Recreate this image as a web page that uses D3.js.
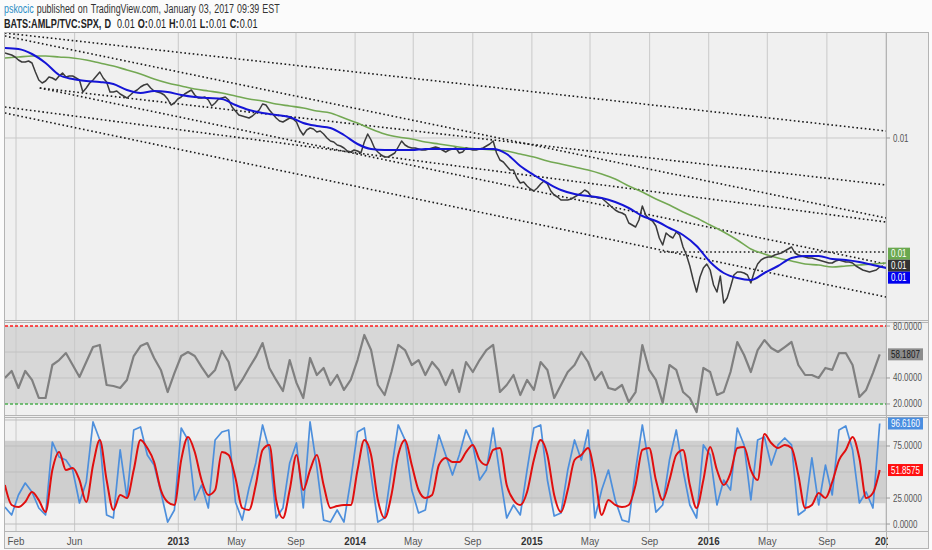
<!DOCTYPE html>
<html>
<head>
<meta charset="utf-8">
<script src="https://cdnjs.cloudflare.com/ajax/libs/d3/7.8.5/d3.min.js"></script>
<style>
  body { margin: 0; background: #fff; }
  svg { display: block; font-family: "Liberation Sans", Arial, sans-serif; }
</style>
</head>
<body>
<svg width="932" height="550"></svg>
<script>
// AMLP / SPX, nến D — giá đọc từ hình theo tuần
const gridStart = "2012-01-09";
const priceStepDays = 7;
const priceValues = [
    0.01255, 0.01252, 0.01249, 0.01243, 0.01234, 0.01228, 0.01228, 0.01231, 0.01225, 0.01198,
    0.01174, 0.01165, 0.01171, 0.01183, 0.01180, 0.01174, 0.01186, 0.01195, 0.01183, 0.01186,
    0.01186, 0.01180, 0.01174, 0.01138, 0.01150, 0.01165, 0.01174, 0.01186, 0.01198, 0.01180,
    0.01168, 0.01138, 0.01138, 0.01141, 0.01132, 0.01126, 0.01120, 0.01129, 0.01138, 0.01144,
    0.01153, 0.01159, 0.01162, 0.01150, 0.01141, 0.01138, 0.01135, 0.01129, 0.01117, 0.01099,
    0.01105, 0.01117, 0.01123, 0.01132, 0.01138, 0.01144, 0.01129, 0.01120, 0.01120, 0.01123,
    0.01114, 0.01096, 0.01105, 0.01117, 0.01120, 0.01123, 0.01114, 0.01093, 0.01081, 0.01069,
    0.01066, 0.01063, 0.01060, 0.01066, 0.01075, 0.01084, 0.01102, 0.01099, 0.01084, 0.01072,
    0.01060, 0.01051, 0.01048, 0.01054, 0.01060, 0.01057, 0.01048, 0.01024, 0.01009, 0.01024,
    0.01030, 0.01027, 0.01018, 0.01021, 0.01012, 0.01000, 0.00991, 0.00988, 0.00979, 0.00976,
    0.00970, 0.00961, 0.00958, 0.00964, 0.00961, 0.00955, 0.00988, 0.01012, 0.00994, 0.00970,
    0.00958, 0.00949, 0.00943, 0.00943, 0.00949, 0.00955, 0.00973, 0.00991, 0.00979, 0.00973,
    0.00970, 0.00970, 0.00967, 0.00964, 0.00964, 0.00967, 0.00970, 0.00973, 0.00970, 0.00964,
    0.00958, 0.00964, 0.00967, 0.00970, 0.00955, 0.00958, 0.00970, 0.00967, 0.00964, 0.00964,
    0.00967, 0.00970, 0.00976, 0.00982, 0.00991, 0.00955, 0.00934, 0.00928, 0.00916, 0.00904,
    0.00904, 0.00880, 0.00865, 0.00868, 0.00856, 0.00847, 0.00841, 0.00850, 0.00862, 0.00871,
    0.00862, 0.00841, 0.00829, 0.00823, 0.00814, 0.00814, 0.00814, 0.00817, 0.00823, 0.00829,
    0.00835, 0.00844, 0.00838, 0.00823, 0.00823, 0.00820, 0.00820, 0.00811, 0.00802, 0.00793,
    0.00784, 0.00778, 0.00775, 0.00769, 0.00745, 0.00739, 0.00733, 0.00754, 0.00796, 0.00769,
    0.00757, 0.00751, 0.00736, 0.00700, 0.00679, 0.00715, 0.00706, 0.00700, 0.00718, 0.00709,
    0.00673, 0.00649, 0.00616, 0.00574, 0.00538, 0.00583, 0.00610, 0.00622, 0.00604, 0.00559,
    0.00538, 0.00586, 0.00505, 0.00520, 0.00553, 0.00589, 0.00598, 0.00598, 0.00595, 0.00589,
    0.00565, 0.00598, 0.00622, 0.00634, 0.00640, 0.00643, 0.00643, 0.00649, 0.00652, 0.00655,
    0.00661, 0.00667, 0.00673, 0.00655, 0.00649, 0.00646, 0.00643, 0.00640, 0.00640, 0.00637,
    0.00634, 0.00631, 0.00628, 0.00625, 0.00625, 0.00631, 0.00634, 0.00631, 0.00628, 0.00628,
    0.00625, 0.00616, 0.00610, 0.00604, 0.00601, 0.00598, 0.00601, 0.00604, 0.00613, 0.00616];

// RSI và Stochastic: mỗi điểm cách nhau 2 tuần
const oscStepDays = 14;
const rsiValues = [40.0, 45.4, 32.3, 45.4, 38.5, 24.6, 24.6, 50.0, 53.8, 59.2,
    50.0, 40.8, 52.3, 63.8, 65.4, 34.6, 33.8, 32.3, 38.5, 56.9,
    64.6, 66.9, 55.4, 46.2, 29.2, 43.8, 56.9, 60.0, 56.9, 48.5,
    40.8, 46.2, 60.8, 52.3, 30.8, 38.5, 47.7, 56.2, 66.9, 47.7,
    38.5, 30.0, 53.8, 36.2, 24.6, 55.4, 42.3,
    47.7, 34.6, 42.3, 30.8, 38.5, 53.8, 73.1, 61.5, 34.6, 26.9,
    44.6, 65.4, 61.5, 50.0, 53.8, 42.3, 52.3, 46.2, 34.6, 46.2,
    29.2, 52.3, 44.6, 53.8, 61.5, 65.4, 29.2, 34.6, 42.3, 26.9,
    38.5, 30.8, 52.3, 46.2, 24.6, 34.6, 44.6, 50.0, 60.0, 52.3,
    38.5, 44.6, 32.3, 30.8, 34.6, 21.5, 29.2, 65.4, 46.2, 38.5,
    20.8, 50.0, 46.2, 29.2, 24.6, 13.8, 47.7, 44.6, 26.9, 29.2,
    44.6, 67.7, 57.7, 44.6, 61.5, 69.2, 63.1, 60.0, 63.8, 67.7,
    50.0, 42.3, 42.3, 40.0, 47.7, 46.2, 59.2, 59.2, 50.0, 25.4,
    30.8, 43.8, 58.2];

const stochK = [16.3, 8.7, 27.9, 39.4, 30.8, 15.4, 8.7, 78.8, 64.4, 61.5,
    51.9, 20.2, 40.4, 98.1, 80.8, 8.7, 5.8, 71.2, 25.0, 90.4,
    93.3, 66.3, 56.7, 30.8, 1.9, 13.5, 92.3, 80.8, 23.1, 37.5,
    15.4, 80.8, 88.5, 90.4, 21.2, 3.8, 34.6, 58.7, 95.2, 71.2,
    5.8, 15.4, 58.7, 77.9, 15.4, 98.1, 54.8,
    3.8, 1.9, 13.5, 1.9, 42.3, 88.5, 92.3, 47.1, 1.9, 5.8,
    51.9, 95.2, 80.8, 32.7, 10.6, 13.5, 51.9, 85.6, 66.3, 47.1,
    66.3, 90.4, 76.0, 42.3, 51.9, 92.3, 47.1, 5.8, 18.3, 8.7,
    51.9, 92.3, 95.2, 42.3, 7.7, 10.6, 51.9, 80.8, 61.5, 90.4,
    5.8, 32.7, 51.9, 23.1, 3.8, 1.9, 51.9, 95.2, 56.7, 11.5,
    18.3, 61.5, 90.4, 51.9, 18.3, 5.8, 76.0, 66.3, 18.3, 42.3,
    32.7, 92.3, 76.0, 23.1, 80.8, 83.7, 56.7, 76.0, 82.7, 76.0,
    8.7, 13.5, 63.5, 18.3, 56.7, 27.9, 90.4, 94.2, 71.2, 20.2,
    30.8, 15.4, 96.6];

const stochD = [37.5, 18.3, 16.3, 21.2, 30.8, 23.1, 11.5, 51.9, 69.2, 51.9,
    53.8, 42.3, 21.2, 56.7, 80.8, 42.3, 13.5, 27.9, 25.0, 51.9,
    80.8, 73.1, 59.6, 32.7, 21.2, 18.3, 61.5, 83.7, 69.2, 42.3,
    27.9, 32.7, 69.2, 66.3, 44.2, 15.4, 13.5, 37.5, 71.2, 76.0,
    23.1, 5.8, 32.7, 66.3, 32.7, 51.9, 66.3,
    37.5, 15.4, 17.3, 18.3, 18.3, 51.9, 80.8, 66.3, 23.1, 5.8,
    27.9, 66.3, 80.8, 56.7, 32.7, 25.0, 27.9, 56.7, 63.5, 59.6,
    59.6, 69.2, 76.0, 61.5, 56.7, 71.2, 73.1, 37.5, 23.1, 18.3,
    30.8, 61.5, 80.8, 66.3, 27.9, 11.5, 32.7, 61.5, 66.3, 73.1,
    47.1, 8.7, 23.1, 18.3, 16.3, 18.3, 37.5, 71.2, 73.1, 42.3,
    23.1, 42.3, 66.3, 71.2, 37.5, 15.4, 42.3, 74.0, 51.9, 37.5,
    49.0, 73.1, 74.0, 51.9, 42.3, 86.5, 77.9, 73.1, 76.0, 73.1,
    47.1, 15.4, 18.3, 29.8, 25.0, 40.4, 61.5, 71.2, 83.7, 63.5,
    25.0, 29.8, 51.9];

// 2 đường MA, mỗi điểm cách nhau 4 tuần
const maStepDays = 28;
const maFast = [0.01270, 0.01267, 0.01252, 0.01225, 0.01189, 0.01177, 0.01171, 0.01168, 0.01162, 0.01144,
    0.01135, 0.01141, 0.01138, 0.01129, 0.01123, 0.01120, 0.01117, 0.01099, 0.01084, 0.01075,
    0.01069, 0.01063, 0.01045, 0.01036, 0.01030, 0.01009, 0.00982, 0.00967, 0.00964, 0.00964,
    0.00964, 0.00967, 0.00967, 0.00967, 0.00967, 0.00967, 0.00967, 0.00952, 0.00916, 0.00889,
    0.00865, 0.00844, 0.00832, 0.00826, 0.00820, 0.00808, 0.00790, 0.00766, 0.00751, 0.00730,
    0.00709, 0.00676, 0.00628, 0.00595, 0.00580, 0.00574, 0.00595, 0.00616, 0.00640, 0.00646,
    0.00646, 0.00637, 0.00634, 0.00628, 0.00619, 0.00610];
const maSlow = [0.01240, 0.01243, 0.01246, 0.01246, 0.01243, 0.01240, 0.01234, 0.01225, 0.01216, 0.01204,
    0.01192, 0.01177, 0.01165, 0.01156, 0.01147, 0.01141, 0.01135, 0.01126, 0.01117, 0.01111,
    0.01102, 0.01096, 0.01090, 0.01081, 0.01075, 0.01060, 0.01045, 0.01027, 0.01012, 0.01003,
    0.00997, 0.00988, 0.00982, 0.00976, 0.00970, 0.00967, 0.00964, 0.00961, 0.00952, 0.00943,
    0.00931, 0.00922, 0.00913, 0.00904, 0.00892, 0.00877, 0.00856, 0.00838, 0.00817, 0.00799,
    0.00778, 0.00760, 0.00739, 0.00718, 0.00694, 0.00667, 0.00652, 0.00640, 0.00631, 0.00622,
    0.00619, 0.00613, 0.00616, 0.00619, 0.00622, 0.00625];

// các đường trend vẽ tay: [ngày đầu, giá đầu, ngày cuối, giá cuối]
const trendLines = [
    ["2012-01-09", 0.01315, "2017-01-01", 0.01021],
    ["2012-01-09", 0.01306, "2017-01-01", 0.00760],
    ["2012-03-21", 0.01150, "2017-01-01", 0.00859],
    ["2012-03-21", 0.01150, "2017-01-01", 0.00622],
    ["2012-01-09", 0.01093, "2017-01-01", 0.00748],
    ["2012-01-09", 0.01075, "2017-01-01", 0.00523],
    ["2015-09-22", 0.00658, "2017-01-01", 0.00658]
];

const timeTicks = ["2012-02-01", "2012-06-01", "2013-01-01", "2013-05-01", "2013-09-01", "2014-01-01", "2014-05-01",
    "2014-09-01", "2015-01-01", "2015-05-01", "2015-09-01", "2016-01-01", "2016-05-01", "2016-09-01", "2017-01-01"];
const timeLabels = ["Feb", "Jun", "2013", "May", "Sep", "2014", "May", "Sep", "2015", "May", "Sep", "2016", "May", "Sep", "2017"];

const mainTicks = [0.01];
const rsiGrid = [40, 60];
const rsiTicks = [80, 40, 20];
const stochGrid = [0, 25, 50, 75, 100];
const stochTicks = [75, 25, 0];
const lastRsiLabel = 58.1807;
const lastKLabel = 96.6160;
const lastDLabel = 51.8575;

let s = d3.select("svg");
let parse = d3.timeParse("%Y-%m-%d");

let left = 5, right = 886, outer = 928;
let mainTop = 33, mainBottom = 320;
let rsiTop = 322, rsiBottom = 415;
let stTop = 418, stBottom = 531;

let x = d3.scaleTime().domain([parse("2012-01-01"), parse("2017-01-01")]).range([1, 886]);
let yMain = d3.scaleLinear().domain([0.00454, 0.01315]).range([mainBottom, mainTop]);
let yRsi = d3.scaleLinear().domain([11.5, 83.1]).range([rsiBottom, rsiTop]);
let ySt = d3.scaleLinear().domain([-6.7, 101.9]).range([stBottom, stTop]);

let start = parse(gridStart);
let dates = priceValues.map((v, i) => d3.timeDay.offset(start, i * priceStepDays));
let oscDates = rsiValues.map((v, i) => d3.timeDay.offset(start, i * oscStepDays));
let maDates = maFast.map((v, i) => d3.timeDay.offset(start, i * maStepDays));

// ép chữ cho hẹp như font gốc
let squeeze = (sel, k) => {
    let w = sel.node().getComputedTextLength();
    sel.attr("textLength", w * k).attr("lengthAdjust", "spacingAndGlyphs");
    return w * k;
};

// nền
s.append("rect").attr("x", 0).attr("y", 0).attr("width", 932).attr("height", 550).attr("fill", "#fbfbfb");
s.append("rect").attr("x", 4).attr("y", 32).attr("width", outer - 4).attr("height", 517)
    .attr("fill", "#f0f0f0");

// clip cho từng khung
let defs = s.append("defs");
[["clipMain", mainTop, mainBottom, right], ["clipRsi", rsiTop, rsiBottom, right],
    ["clipSt", stTop, stBottom, right], ["clipAxis", 531, 549, 888]].forEach(c => {
    defs.append("clipPath").attr("id", c[0])
        .append("rect").attr("x", left).attr("y", c[1])
        .attr("width", c[3] - left).attr("height", c[2] - c[1]);
});

// dải xám của RSI và Stoch
s.append("rect").attr("x", left).attr("width", right - left)
    .attr("y", yRsi(80)).attr("height", yRsi(20) - yRsi(80)).attr("fill", "#d7d7d7");
s.append("rect").attr("x", left).attr("width", right - left)
    .attr("y", ySt(80)).attr("height", ySt(20) - ySt(80)).attr("fill", "#cfcfcf");

// lưới dọc
let tickDates = timeTicks.map(parse);
tickDates.forEach(d => {
    [[mainTop, mainBottom], [rsiTop, rsiBottom], [stTop, stBottom]].forEach(p => {
        s.append("line").attr("x1", x(d)).attr("x2", x(d)).attr("y1", p[0]).attr("y2", p[1])
            .attr("stroke", "#c9c9c9").attr("stroke-width", 1);
    });
});

// lưới ngang
mainTicks.forEach(v => {
    s.append("line").attr("x1", left).attr("x2", right).attr("y1", yMain(v)).attr("y2", yMain(v))
        .attr("stroke", "#c9c9c9");
});
rsiGrid.forEach(v => {
    s.append("line").attr("x1", left).attr("x2", right).attr("y1", yRsi(v)).attr("y2", yRsi(v))
        .attr("stroke", "#c2c2c2");
});
stochGrid.forEach(v => {
    s.append("line").attr("x1", left).attr("x2", right).attr("y1", ySt(v)).attr("y2", ySt(v))
        .attr("stroke", "#bdbdbd");
});

// khung viền
let frame = s.append("g").attr("stroke", "#b4b4b4").attr("stroke-width", 1).attr("fill", "none");
frame.append("rect").attr("x", 4.5).attr("y", 32.5).attr("width", outer - 4).attr("height", 516);
frame.append("line").attr("x1", right + 0.5).attr("x2", right + 0.5).attr("y1", 32).attr("y2", 549);
[320.5, 322.5, 415.5, 417.5, 531.5].forEach(yy => {
    frame.append("line").attr("x1", 4).attr("x2", outer + 1).attr("y1", yy).attr("y2", yy);
});

// đường trend chấm chấm
let gMain = s.append("g").attr("clip-path", "url(#clipMain)");
trendLines.forEach(t => {
    gMain.append("line")
        .attr("x1", x(parse(t[0]))).attr("y1", yMain(t[1]))
        .attr("x2", x(parse(t[2]))).attr("y2", yMain(t[3]))
        .attr("stroke", "#1a1a1a").attr("stroke-width", 1.6)
        .attr("stroke-dasharray", "1.6,2.6");
});

let lineMain = d3.line().x(d => x(d[0])).y(d => yMain(d[1])).curve(d3.curveMonotoneX);
gMain.append("path").datum(maDates.map((d, i) => [d, maSlow[i]]))
    .attr("d", lineMain).attr("fill", "none").attr("stroke", "#73a853").attr("stroke-width", 1.6);
gMain.append("path").datum(dates.map((d, i) => [d, priceValues[i]]))
    .attr("d", d3.line().x(d => x(d[0])).y(d => yMain(d[1])))
    .attr("fill", "none").attr("stroke", "#3b3b3b").attr("stroke-width", 1.5)
    .attr("stroke-linejoin", "round");
gMain.append("path").datum(maDates.map((d, i) => [d, maFast[i]]))
    .attr("d", lineMain).attr("fill", "none").attr("stroke", "#1515d6").attr("stroke-width", 2);

// RSI
let gRsi = s.append("g").attr("clip-path", "url(#clipRsi)");
gRsi.append("line").attr("x1", left).attr("x2", right).attr("y1", yRsi(80)).attr("y2", yRsi(80))
    .attr("stroke", "#ff1a1a").attr("stroke-width", 1.5).attr("stroke-dasharray", "3,2");
gRsi.append("line").attr("x1", left).attr("x2", right).attr("y1", yRsi(20)).attr("y2", yRsi(20))
    .attr("stroke", "#4caf50").attr("stroke-width", 1.5).attr("stroke-dasharray", "3,2");
gRsi.append("path").datum(rsiValues)
    .attr("d", d3.line().x((d, i) => x(oscDates[i])).y(d => yRsi(d)))
    .attr("fill", "none").attr("stroke", "#808080").attr("stroke-width", 2.2).attr("stroke-linejoin", "round");

// Stochastic
let gSt = s.append("g").attr("clip-path", "url(#clipSt)");
let lineSt = d3.line().x((d, i) => x(oscDates[i])).y(d => ySt(d));
gSt.append("path").datum(stochK).attr("d", lineSt)
    .attr("fill", "none").attr("stroke", "#4d8fdc").attr("stroke-width", 1.7).attr("stroke-linejoin", "round");
gSt.append("path").datum(stochD).attr("d", lineSt.curve(d3.curveMonotoneX))
    .attr("fill", "none").attr("stroke", "#e00f0f").attr("stroke-width", 2).attr("stroke-linejoin", "round");

// trục giá bên phải
let axisText = (yy, txt) => {
    s.append("line").attr("x1", right).attr("x2", right + 4).attr("y1", yy).attr("y2", yy).attr("stroke", "#999");
    let t = s.append("text").attr("x", right + 7).attr("y", yy + 3.5).text(txt)
        .attr("font-size", 10.5).attr("fill", "#555");
    squeeze(t, 0.76);
};
mainTicks.forEach(v => axisText(yMain(v), d3.format(".2f")(v)));
rsiTicks.forEach(v => axisText(yRsi(v), d3.format(".4f")(v)));
stochTicks.forEach(v => axisText(ySt(v), d3.format(".4f")(v)));

let valueLabel = (yy, txt, bg, fg, w) => {
    s.append("rect").attr("x", right + 2).attr("y", yy - 6).attr("width", w).attr("height", 12)
        .attr("fill", bg);
    let t = s.append("text").attr("x", right + 5).attr("y", yy + 3.5).text(txt)
        .attr("font-size", 10.5).attr("fill", fg);
    squeeze(t, 0.76);
};

// nhãn giá cuối: dàn ra để không chồng nhau
let lastMain = [
    { v: maSlow[maSlow.length - 1], bg: "#6aa84f" },
    { v: priceValues[priceValues.length - 1], bg: "#333333" },
    { v: maFast[maFast.length - 1], bg: "#0000ee" }
];
let mid = d3.mean(lastMain, d => yMain(d.v));
lastMain.forEach((d, i) => {
    valueLabel(mid + (i - 1) * 12, d3.format(".2f")(d.v), d.bg, "#fff", 22);
});
valueLabel(yRsi(rsiValues[rsiValues.length - 1]), d3.format(".4f")(lastRsiLabel), "#8c8c8c", "#1a1a1a", 35);
valueLabel(ySt(stochK[stochK.length - 1]), d3.format(".4f")(lastKLabel), "#4a8ee0", "#fff", 35);
valueLabel(ySt(stochD[stochD.length - 1]), d3.format(".4f")(lastDLabel), "#ff1010", "#fff", 35);

// trục thời gian
let gAxis = s.append("g").attr("clip-path", "url(#clipAxis)");
tickDates.forEach((d, i) => {
    let isYear = /^\d{4}$/.test(timeLabels[i]);
    let t = gAxis.append("text").attr("y", 545).text(timeLabels[i])
        .attr("font-size", 11.5)
        .attr("font-weight", isYear ? "bold" : "normal")
        .attr("fill", isYear ? "#333" : "#555");
    let w = squeeze(t, 0.85);
    t.attr("x", x(d) - w / 2);
});

// tiêu đề: mỗi mẩu chữ được co ngang bằng transform, gap = khoảng trống trước mẩu đó
let header = (pieces, y0, size, k) => {
    let cx = 4;
    pieces.forEach(p => {
        cx += p[3];
        let t = s.append("text").attr("font-size", size)
            .attr("font-weight", p[1] ? "bold" : "normal").attr("fill", p[2]).text(p[0]);
        let w = t.node().getComputedTextLength();
        t.attr("transform", "translate(" + cx + "," + y0 + ") scale(" + k + ",1)");
        cx += w * k;
    });
};
header([["pskocic", false, "#2a8cc4", 0], ["published", false, "#333", 3], ["on", false, "#333", 3],
    ["TradingView.com,", false, "#333", 3], ["January", false, "#333", 3], ["03,", false, "#333", 3],
    ["2017", false, "#333", 3], ["09:39", false, "#333", 3], ["EST", false, "#333", 3]], 13, 13.5, 0.66);
header([["BATS:AMLP/TVC:SPX,", true, "#222", 0], ["D", true, "#222", 3], ["0.01", false, "#222", 6],
    ["O:", true, "#222", 3], ["0.01", false, "#222", 0.5], ["H:", true, "#222", 3], ["0.01", false, "#222", 0.5],
    ["L:", true, "#222", 3], ["0.01", false, "#222", 0.5], ["C:", true, "#222", 3], ["0.01", false, "#222", 0.5]],
    27.5, 13, 0.7);
</script>
</body>
</html>
